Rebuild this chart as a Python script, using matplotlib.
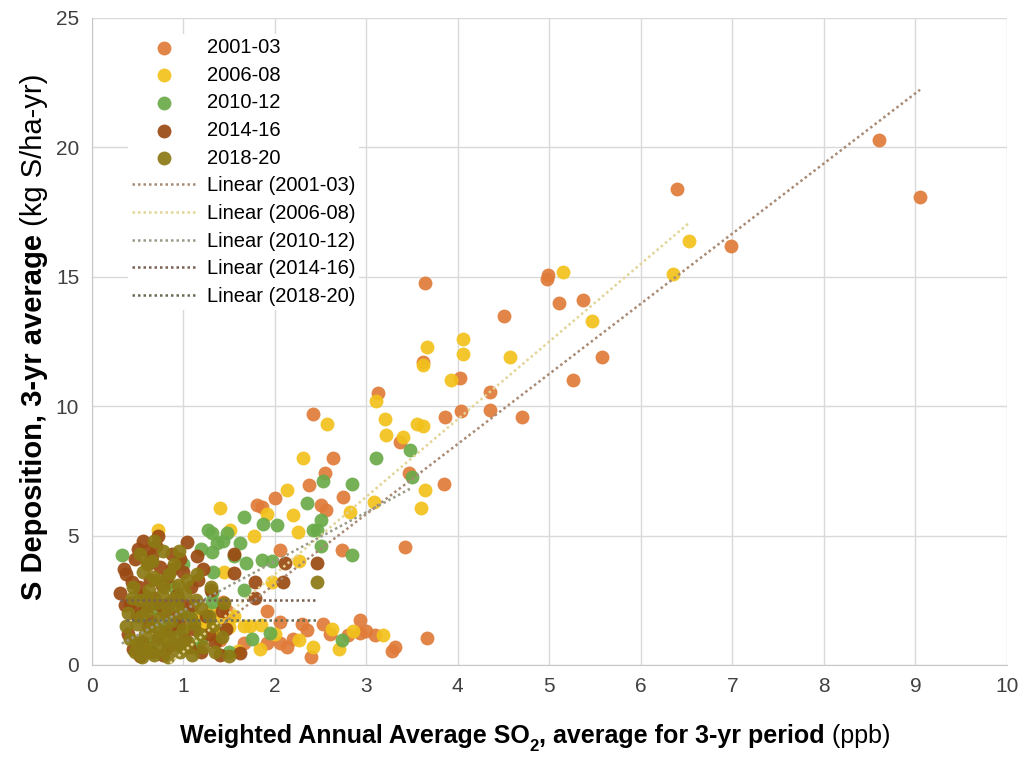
import matplotlib
matplotlib.use('Agg')
import matplotlib.pyplot as plt
import numpy as np

plt.rcParams['font.family'] = ['Liberation Sans Narrow', 'Liberation Sans', 'DejaVu Sans']

periods = ['2001-03', '2006-08', '2010-12', '2014-16', '2018-20']
point_colors = ['#E07B39', '#F2C21B', '#6AAB4A', '#9A4A12', '#8C7A14']
line_colors = ['#a88a74', '#e2d496', '#9a9a88', '#7a6050', '#6b6b55']

# (SO2 ppb, S deposition kg/ha-yr)
pts_2001_03 = [(9.05, 18.1), (8.6, 20.3), (6.99, 16.2), (6.4, 18.4), (5.58, 11.9), (5.37, 14.1),
               (5.26, 11.0), (5.11, 14.0), (4.98, 14.9), (4.99, 15.05), (4.7, 9.6), (4.51, 13.5),
               (4.35, 10.55), (4.35, 9.85), (4.04, 9.8), (4.02, 11.1), (3.86, 9.6), (3.85, 7.0),
               (3.64, 14.75), (3.62, 11.7), (3.13, 10.5), (3.37, 8.6), (2.42, 9.7), (2.64, 8.0),
               (2.55, 7.4), (2.37, 6.95), (2.75, 6.5), (2.51, 6.2), (2.56, 6.0), (3.47, 7.4),
               (3.42, 4.55), (2.0, 6.45), (1.81, 6.2), (1.86, 6.1), (2.73, 4.45), (2.06, 4.45),
               (1.44, 2.45), (1.92, 2.1), (1.48, 2.1), (2.06, 1.65), (2.53, 1.6), (2.3, 1.6),
               (2.93, 1.75), (2.93, 1.25), (2.8, 1.15), (3.1, 1.15), (3.31, 0.7), (3.28, 0.55),
               (3.66, 1.05), (2.06, 0.85), (2.13, 0.7), (2.4, 0.3), (1.92, 0.85), (1.66, 0.85),
               (1.4, 0.96), (3.0, 1.3), (2.6, 1.2), (2.2, 1.0), (1.5, 1.8), (2.35, 1.35)]
pts_2006_08 = [(6.53, 16.4), (6.35, 15.1), (5.15, 15.2), (5.47, 13.3), (4.57, 11.9), (4.06, 12.6),
               (4.06, 12.0), (3.93, 11.0), (3.66, 12.3), (3.62, 11.6), (3.11, 10.2), (3.2, 9.5),
               (3.22, 8.9), (3.55, 9.3), (3.62, 9.25), (3.4, 8.8), (2.57, 9.3), (2.31, 8.0),
               (2.13, 6.75), (3.64, 6.75), (3.6, 6.06), (3.09, 6.3), (2.82, 5.9), (1.4, 6.06),
               (1.92, 5.85), (2.2, 5.8), (2.25, 5.15), (1.77, 5.0), (1.51, 5.2), (2.27, 4.0),
               (1.97, 3.2), (1.45, 3.6), (1.73, 1.5), (1.66, 1.5), (2.63, 1.4), (3.18, 1.15),
               (1.84, 0.6), (2.42, 0.7), (2.27, 0.96), (1.3, 1.2), (1.2, 1.6), (1.55, 1.9),
               (0.72, 5.2), (1.25, 1.5), (1.4, 1.7), (1.5, 1.45), (1.6, 0.55), (1.3, 2.1),
               (2.85, 1.3), (2.7, 0.6), (1.0, 1.3), (1.85, 1.55), (2.0, 1.2), (1.15, 1.9),
               (1.35, 1.45), (0.85, 0.9)]
pts_2010_12 = [(3.11, 8.0), (3.48, 8.3), (3.5, 7.25), (2.53, 7.1), (2.84, 7.0), (2.35, 6.25),
               (2.46, 5.2), (2.51, 4.6), (2.42, 5.2), (2.51, 5.6), (1.66, 5.7), (1.87, 5.45),
               (2.02, 5.4), (1.31, 5.1), (1.37, 4.7), (1.44, 4.8), (1.62, 4.7), (1.31, 4.35),
               (1.69, 3.95), (1.86, 4.05), (1.97, 4.0), (2.84, 4.25), (1.33, 3.6), (1.66, 2.9),
               (1.31, 2.43), (1.95, 1.25), (2.73, 0.95), (1.11, 0.7), (0.33, 4.25), (1.2, 4.5),
               (1.0, 3.9), (0.9, 3.0), (0.7, 2.2), (0.8, 1.5), (1.2, 1.0), (1.05, 2.0),
               (0.6, 0.8), (1.5, 0.5), (1.75, 1.0), (1.55, 4.2), (1.27, 5.2), (1.31, 2.8),
               (1.13, 0.7), (0.95, 1.4), (1.48, 5.1)]
pts_2014_16 = [(0.31, 2.8), (0.35, 3.7), (0.38, 3.5), (0.40, 1.2), (0.42, 2.4), (0.45, 0.6),
               (0.47, 4.1), (0.50, 1.9), (0.52, 3.0), (0.55, 0.9), (0.56, 4.8), (0.58, 2.2),
               (0.60, 4.4), (0.62, 1.5), (0.64, 3.3), (0.66, 0.5), (0.68, 2.6), (0.70, 4.6),
               (0.72, 1.1), (0.73, 5.0), (0.75, 3.8), (0.78, 0.4), (0.80, 2.0), (0.82, 3.4),
               (0.85, 1.3), (0.88, 4.3), (0.90, 0.8), (0.93, 2.7), (0.95, 1.6), (0.97, 4.1),
               (1.00, 3.6), (1.04, 4.75), (1.06, 0.7), (1.10, 2.3), (1.12, 1.4), (1.15, 4.2),
               (1.16, 3.3), (1.20, 0.5), (1.25, 1.9), (1.30, 2.9), (1.35, 0.9), (1.42, 2.1),
               (1.55, 4.3), (1.55, 3.55), (1.79, 3.2), (2.09, 3.2), (2.11, 3.93), (2.46, 3.93),
               (1.62, 0.45), (1.79, 2.6), (0.48, 2.2), (0.53, 0.35), (0.65, 1.7), (0.85, 2.4),
               (0.62, 3.9), (0.77, 3.1), (0.92, 1.9), (1.02, 1.0), (0.36, 2.3), (0.44, 3.2),
               (0.57, 2.7), (0.66, 4.2), (0.75, 2.3), (0.83, 0.7), (0.98, 2.4), (1.08, 3.0),
               (1.22, 3.7), (1.28, 1.2), (1.40, 0.4), (1.47, 1.4), (0.51, 4.5), (0.88, 3.7)]
pts_2018_20 = [(0.40, 2.0), (0.42, 1.0), (0.45, 3.0), (0.47, 0.5), (0.50, 1.6), (0.52, 2.5),
               (0.55, 0.3), (0.56, 3.6), (0.58, 1.2), (0.60, 2.1), (0.62, 0.7), (0.63, 2.9),
               (0.65, 1.5), (0.66, 4.0), (0.68, 0.4), (0.70, 2.4), (0.71, 1.0), (0.72, 3.3),
               (0.74, 1.8), (0.75, 0.6), (0.77, 2.7), (0.78, 4.4), (0.80, 1.3), (0.82, 2.2),
               (0.83, 0.3), (0.85, 3.5), (0.87, 1.7), (0.88, 0.8), (0.90, 2.6), (0.92, 1.1),
               (0.94, 3.1), (0.96, 0.5), (0.98, 2.0), (1.00, 1.4), (1.02, 2.8), (1.05, 0.9),
               (1.08, 1.8), (1.10, 0.4), (1.14, 2.5), (1.18, 1.2), (1.22, 0.7), (1.28, 1.9),
               (1.35, 0.5), (1.42, 1.1), (1.50, 0.35), (2.46, 3.2), (0.53, 4.3), (0.68, 4.8),
               (0.95, 4.4), (0.38, 1.5), (0.60, 3.9), (1.15, 3.5), (1.30, 3.0), (0.90, 3.9),
               (1.45, 2.4), (0.50, 0.9), (0.44, 2.6), (0.54, 1.9), (0.61, 2.6), (0.67, 3.4),
               (0.73, 1.4), (0.79, 3.0), (0.84, 1.0), (0.93, 2.3), (1.04, 3.3), (1.12, 1.6),
               (1.20, 2.2), (1.33, 1.5), (0.58, 0.6), (0.99, 0.7)]

# linear trendlines as shown in the picture: (slope, intercept, x start, x end)
trends = [(2.71, -2.30, 1.40, 9.05),
          (3.00, -2.50, 0.72, 6.53),
          (1.90, 0.20, 0.33, 3.50),
          (0.00, 2.50, 0.31, 2.46),
          (0.00, 1.75, 0.38, 2.46)]

series = [pts_2001_03, pts_2006_08, pts_2010_12, pts_2014_16, pts_2018_20]

fig = plt.figure(figsize=(10.24, 7.58), dpi=100)
ax = fig.add_axes([0.0895, 0.1227, 0.8939, 0.8536])

handles = []
for pts, c, lab in zip(series, point_colors, periods):
    xy = np.array(pts)
    h = ax.scatter(xy[:, 0], xy[:, 1], s=100, color=c, linewidths=0, alpha=0.92, label=lab, zorder=3)
    handles.append(h)

for (m, b, x0, x1), c, lab in zip(trends, line_colors, periods):
    xs = np.array([x0, x1])
    ln, = ax.plot(xs, m * xs + b, color=c, linestyle=(0, (1, 1.2)), linewidth=1.8,
                  label='Linear (%s)' % lab, zorder=4)
    handles.append(ln)

ax.set_xlim(0, 10)
ax.set_ylim(0, 25)
ax.set_xticks(range(0, 11))
ax.set_yticks(range(0, 26, 5))
ax.grid(True, color='#d9d9d9', linewidth=1)
ax.set_axisbelow(True)
ax.tick_params(length=0, labelsize=15, colors='#404040', pad=9)
for side in ['top', 'right']:
    ax.spines[side].set_visible(False)
for side in ['left', 'bottom']:
    ax.spines[side].set_color('#c8c8c8')

leg = ax.legend(handles=handles, loc='upper left', bbox_to_anchor=(128 / 1024, 1 - 34 / 758),
                bbox_transform=fig.transFigure, fontsize=14.5, frameon=True, framealpha=1,
                edgecolor='none', facecolor='white', handlelength=3.2, handletextpad=0.5,
                labelspacing=0.43, borderpad=0.2, borderaxespad=0, scatterpoints=1, fancybox=False)
leg.set_zorder(5)

# x label: bold part + subscript + normal units
t1 = fig.text(0.17, 1 - 748 / 758, 'Weighted Annual Average SO', fontsize=18, fontweight='bold',
              va='bottom', ha='left')
t2 = ax.annotate('2', xy=(1, 0), xycoords=t1, xytext=(0, -4), textcoords='offset points',
                 fontsize=12, fontweight='bold', va='bottom', ha='left')
t3 = ax.annotate(', average for 3-yr period', xy=(1, 0), xycoords=(t2, t1), fontsize=18,
                 fontweight='bold', va='bottom', ha='left')
t4 = ax.annotate(' (ppb)', xy=(1, 0), xycoords=t3, fontsize=18, va='bottom', ha='left')

# y label: rotated bold part + normal units
u1 = fig.text(0.02, 0.2, 'S Deposition, 3-yr average', fontsize=21, fontweight='bold',
              rotation=90, va='bottom', ha='left')
u2 = ax.annotate(' (kg S/ha-yr)', xy=(0, 1), xycoords=u1, fontsize=21, rotation=90,
                 va='bottom', ha='left')

fig.canvas.draw()
r = fig.canvas.get_renderer()
b1 = t1.get_window_extent(r)
b4 = t4.get_window_extent(r)
width = b4.x1 - b1.x0
t1.set_x((535 - width / 2) / 1024)
c1 = u1.get_window_extent(r)
c2 = u2.get_window_extent(r)
height = c2.y1 - c1.y0
u1.set_position(((34 - c1.width / 2) / 1024, (758 - 336.5 - height / 2) / 758))

fig.savefig('out.png', dpi=100)
